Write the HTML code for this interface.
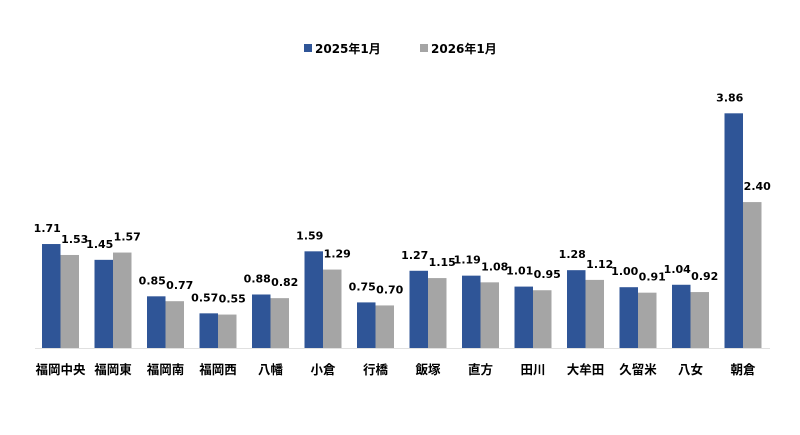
<!DOCTYPE html>
<html><head><meta charset="utf-8"><style>
html,body{margin:0;padding:0;background:#fff;width:800px;height:435px;overflow:hidden}
text{font-family:"Liberation Sans","Noto Sans CJK JP",sans-serif;font-weight:bold;fill:#000}
text.n{font-family:"DejaVu Sans",sans-serif}
</style></head><body>
<svg width="800" height="435" xmlns="http://www.w3.org/2000/svg">
<rect x="304" y="44" width="8" height="8" fill="#2f5597"/>
<text x="315" y="53" font-size="12" class="n">2025<tspan font-family="Noto Sans CJK JP">年</tspan>1<tspan font-family="Noto Sans CJK JP">月</tspan></text>
<rect x="420" y="44" width="8" height="8" fill="#a5a5a5"/>
<text x="431" y="53" font-size="12" class="n">2026<tspan font-family="Noto Sans CJK JP">年</tspan>1<tspan font-family="Noto Sans CJK JP">月</tspan></text>
<line x1="35" y1="348.5" x2="770" y2="348.5" stroke="#e0e0e0" stroke-width="1"/>
<g id="bars"></g>
</svg>
<script>
var d=[["福岡中央",1.71,1.53],["福岡東",1.45,1.57],["福岡南",0.85,0.77],["福岡西",0.57,0.55],["八幡",0.88,0.82],["小倉",1.59,1.29],["行橋",0.75,0.70],["飯塚",1.27,1.15],["直方",1.19,1.08],["田川",1.01,0.95],["大牟田",1.28,1.12],["久留米",1.00,0.91],["八女",1.04,0.92],["朝倉",3.86,2.40]];
var s="",B=348,k=60.8,w=18.5;
d.forEach(function(r,i){
 var x=42+52.5*i,h1=r[1]*k,h2=r[2]*k;
 s+='<rect x="'+x+'" y="'+(B-h1)+'" width="'+w+'" height="'+h1+'" fill="#2f5597"/>';
 s+='<rect x="'+(x+w)+'" y="'+(B-h2)+'" width="'+w+'" height="'+h2+'" fill="#a5a5a5"/>';
 s+='<text class="n" x="'+(x+w/2-4)+'" y="'+(B-h1-12)+'" font-size="11" text-anchor="middle">'+r[1].toFixed(2)+'</text>';
 s+='<text class="n" x="'+(x+w*1.5+5)+'" y="'+(B-h2-12)+'" font-size="11" text-anchor="middle">'+r[2].toFixed(2)+'</text>';
 s+='<text x="'+(x+w)+'" y="374" font-size="12.5" text-anchor="middle">'+r[0]+'</text>';
});
document.getElementById("bars").innerHTML=s;
</script>
</body></html>
